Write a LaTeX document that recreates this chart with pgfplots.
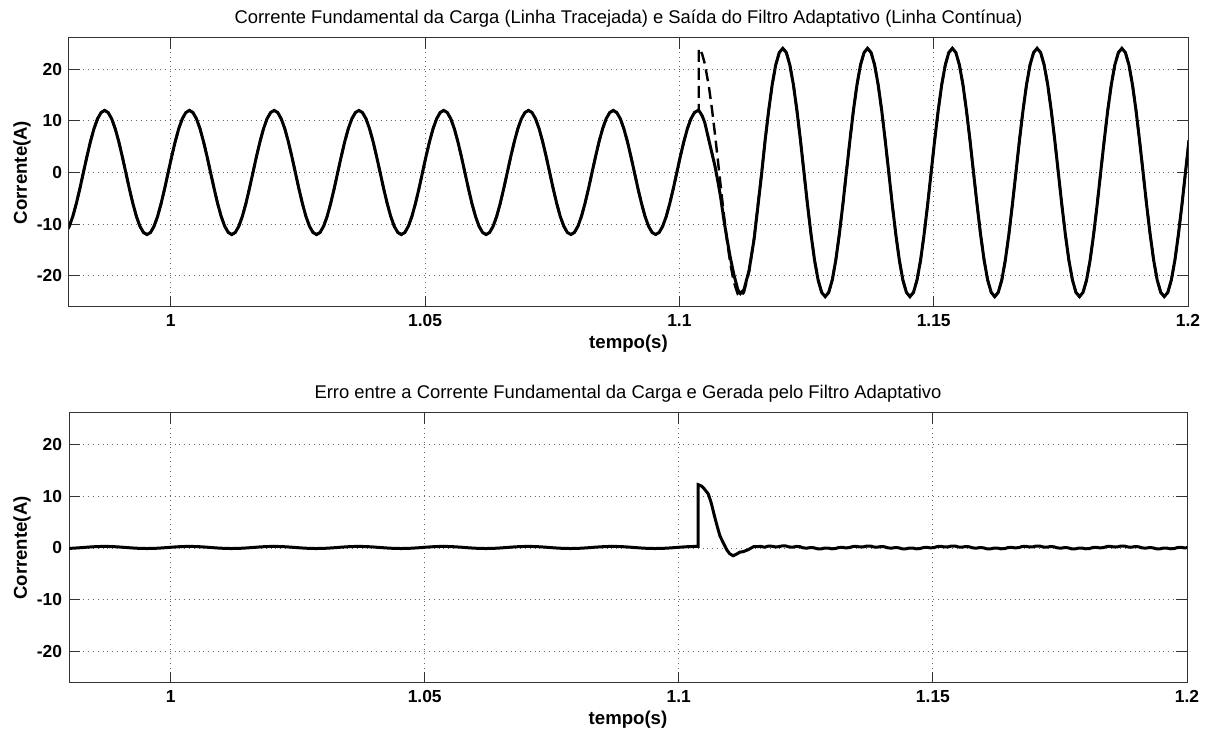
\documentclass[border=0pt]{standalone}
\usepackage{fontspec}
\setmainfont{Liberation Sans}
\usepackage{pgfplots}
\usepackage{pgfplotstable}
\pgfplotsset{compat=1.18}

% t, load current (dashed), adaptive filter output (solid), error
\pgfplotstableread{
t load out err
0.97936 -11.591 -11.591 -0.093
0.98006 -10.392 -10.392 -0.073
0.98075 -8.485 -8.485 -0.041
0.98144 -6 -6 0
0.98214 -3.106 -3.106 0.048
0.98283 0 0 0.100
0.98353 3.106 3.106 0.152
0.98422 6 6 0.200
0.98492 8.485 8.485 0.241
0.98561 10.392 10.392 0.273
0.98631 11.591 11.591 0.293
0.98700 12 12 0.300
0.98769 11.591 11.591 0.293
0.98839 10.392 10.392 0.273
0.98908 8.485 8.485 0.241
0.98978 6 6 0.200
0.99047 3.106 3.106 0.152
0.99117 0 0 0.100
0.99186 -3.106 -3.106 0.048
0.99256 -6 -6 0
0.99325 -8.485 -8.485 -0.041
0.99394 -10.392 -10.392 -0.073
0.99464 -11.591 -11.591 -0.093
0.99533 -12 -12 -0.100
0.99603 -11.591 -11.591 -0.093
0.99672 -10.392 -10.392 -0.073
0.99742 -8.485 -8.485 -0.041
0.99811 -6 -6 0
0.99881 -3.106 -3.106 0.048
0.99950 0 0 0.100
1.00019 3.106 3.106 0.152
1.00089 6 6 0.200
1.00158 8.485 8.485 0.241
1.00228 10.392 10.392 0.273
1.00297 11.591 11.591 0.293
1.00367 12 12 0.300
1.00436 11.591 11.591 0.293
1.00506 10.392 10.392 0.273
1.00575 8.485 8.485 0.241
1.00644 6 6 0.200
1.00714 3.106 3.106 0.152
1.00783 0 0 0.100
1.00853 -3.106 -3.106 0.048
1.00922 -6 -6 0
1.00992 -8.485 -8.485 -0.041
1.01061 -10.392 -10.392 -0.073
1.01131 -11.591 -11.591 -0.093
1.01200 -12 -12 -0.100
1.01269 -11.591 -11.591 -0.093
1.01339 -10.392 -10.392 -0.073
1.01408 -8.485 -8.485 -0.041
1.01478 -6 -6 0
1.01547 -3.106 -3.106 0.048
1.01617 0 0 0.100
1.01686 3.106 3.106 0.152
1.01756 6 6 0.200
1.01825 8.485 8.485 0.241
1.01894 10.392 10.392 0.273
1.01964 11.591 11.591 0.293
1.02033 12 12 0.300
1.02103 11.591 11.591 0.293
1.02172 10.392 10.392 0.273
1.02242 8.485 8.485 0.241
1.02311 6 6 0.200
1.02381 3.106 3.106 0.152
1.02450 0 0 0.100
1.02519 -3.106 -3.106 0.048
1.02589 -6 -6 0
1.02658 -8.485 -8.485 -0.041
1.02728 -10.392 -10.392 -0.073
1.02797 -11.591 -11.591 -0.093
1.02867 -12 -12 -0.100
1.02936 -11.591 -11.591 -0.093
1.03006 -10.392 -10.392 -0.073
1.03075 -8.485 -8.485 -0.041
1.03144 -6 -6 0
1.03214 -3.106 -3.106 0.048
1.03283 0 0 0.100
1.03353 3.106 3.106 0.152
1.03422 6 6 0.200
1.03492 8.485 8.485 0.241
1.03561 10.392 10.392 0.273
1.03631 11.591 11.591 0.293
1.03700 12 12 0.300
1.03769 11.591 11.591 0.293
1.03839 10.392 10.392 0.273
1.03908 8.485 8.485 0.241
1.03978 6 6 0.200
1.04047 3.106 3.106 0.152
1.04117 0 0 0.100
1.04186 -3.106 -3.106 0.048
1.04256 -6 -6 0
1.04325 -8.485 -8.485 -0.041
1.04394 -10.392 -10.392 -0.073
1.04464 -11.591 -11.591 -0.093
1.04533 -12 -12 -0.100
1.04603 -11.591 -11.591 -0.093
1.04672 -10.392 -10.392 -0.073
1.04742 -8.485 -8.485 -0.041
1.04811 -6 -6 0
1.04881 -3.106 -3.106 0.048
1.04950 0 0 0.100
1.05019 3.106 3.106 0.152
1.05089 6 6 0.200
1.05158 8.485 8.485 0.241
1.05228 10.392 10.392 0.273
1.05297 11.591 11.591 0.293
1.05367 12 12 0.300
1.05436 11.591 11.591 0.293
1.05506 10.392 10.392 0.273
1.05575 8.485 8.485 0.241
1.05644 6 6 0.200
1.05714 3.106 3.106 0.152
1.05783 0 0 0.100
1.05853 -3.106 -3.106 0.048
1.05922 -6 -6 0
1.05992 -8.485 -8.485 -0.041
1.06061 -10.392 -10.392 -0.073
1.06131 -11.591 -11.591 -0.093
1.06200 -12 -12 -0.100
1.06269 -11.591 -11.591 -0.093
1.06339 -10.392 -10.392 -0.073
1.06408 -8.485 -8.485 -0.041
1.06478 -6 -6 0
1.06547 -3.106 -3.106 0.048
1.06617 0 0 0.100
1.06686 3.106 3.106 0.152
1.06756 6 6 0.200
1.06825 8.485 8.485 0.241
1.06894 10.392 10.392 0.273
1.06964 11.591 11.591 0.293
1.07033 12 12 0.300
1.07103 11.591 11.591 0.293
1.07172 10.392 10.392 0.273
1.07242 8.485 8.485 0.241
1.07311 6 6 0.200
1.07381 3.106 3.106 0.152
1.07450 0 0 0.100
1.07519 -3.106 -3.106 0.048
1.07589 -6 -6 0
1.07658 -8.485 -8.485 -0.041
1.07728 -10.392 -10.392 -0.073
1.07797 -11.591 -11.591 -0.093
1.07867 -12 -12 -0.100
1.07936 -11.591 -11.591 -0.093
1.08006 -10.392 -10.392 -0.073
1.08075 -8.485 -8.485 -0.041
1.08144 -6 -6 0
1.08214 -3.106 -3.106 0.048
1.08283 0 0 0.100
1.08353 3.106 3.106 0.152
1.08422 6 6 0.200
1.08492 8.485 8.485 0.241
1.08561 10.392 10.392 0.273
1.08631 11.591 11.591 0.293
1.08700 12 12 0.300
1.08769 11.591 11.591 0.293
1.08839 10.392 10.392 0.273
1.08908 8.485 8.485 0.241
1.08978 6 6 0.200
1.09047 3.106 3.106 0.152
1.09117 0 0 0.100
1.09186 -3.106 -3.106 0.048
1.09256 -6 -6 0
1.09325 -8.485 -8.485 -0.041
1.09394 -10.392 -10.392 -0.073
1.09464 -11.591 -11.591 -0.093
1.09533 -12 -12 -0.100
1.09603 -11.591 -11.591 -0.093
1.09672 -10.392 -10.392 -0.073
1.09742 -8.485 -8.485 -0.041
1.09811 -6 -6 0
1.09881 -3.106 -3.106 0.048
1.09950 0 0 0.100
1.10019 3.106 3.106 0.152
1.10089 6 6 0.200
1.10158 8.485 8.485 0.241
1.10228 10.392 10.392 0.273
1.10297 11.591 11.591 0.293
1.10367 12 12 0.300
1.10380 12 12 0.300
1.10381 24 12 12.2
1.10410 23.68 11.58 12.1
1.10450 22.83 10.93 11.9
1.10500 21.03 9.63 11.4
1.10580 16.65 6.25 10.4
1.10640 12.35 3.75 8.6
1.10700 7.42 1.22 6.2
1.10760 2.11 -1.89 4.0
1.10810 -2.41 -4.71 2.3
1.10880 -8.55 -9.45 0.9
1.10940 -13.36 -13.06 -0.3
1.11000 -17.50 -16.40 -1.1
1.11070 -21.17 -19.67 -1.5
1.11150 -23.58 -22.68 -1.1
1.11200 -24.00 -23.40 -0.8
1.11270 -23.17 -22.67 -0.7
1.11370 -19.23 -18.93 -0.3
1.11470 -12.60 -12.85 0.25
1.11617 0 -0.3 0.30
1.11686 6.212 6.212 0.152
1.11756 12 12 0.350
1.11825 16.971 16.971 0.341
1.11894 20.785 20.785 0.223
1.11964 23.182 23.182 0.243
1.12033 24 24 0.400
1.12103 23.182 23.182 0.393
1.12172 20.785 20.785 0.203
1.12242 16.971 16.971 0.161
1.12311 12 12 0.300
1.12381 6.212 6.212 0.252
1.12450 0 0 0.020
1.12519 -6.212 -6.212 -0.032
1.12589 -12 -12 0.080
1.12658 -16.971 -16.971 0.039
1.12728 -20.785 -20.785 -0.153
1.12797 -23.182 -23.182 -0.173
1.12867 -24 -24 -0.020
1.12936 -23.182 -23.182 -0.013
1.13006 -20.785 -20.785 -0.153
1.13075 -16.971 -16.971 -0.121
1.13144 -12 -12 0.080
1.13214 -6.212 -6.212 0.128
1.13283 0 0 0.020
1.13353 6.212 6.212 0.072
1.13422 12 12 0.280
1.13492 16.971 16.971 0.321
1.13561 20.785 20.785 0.193
1.13631 23.182 23.182 0.213
1.13700 24 24 0.380
1.13769 23.182 23.182 0.373
1.13839 20.785 20.785 0.193
1.13908 16.971 16.971 0.161
1.13978 12 12 0.280
1.14047 6.212 6.212 0.232
1.14117 0 0 0.020
1.14186 -6.212 -6.212 -0.032
1.14256 -12 -12 0.080
1.14325 -16.971 -16.971 0.039
1.14394 -20.785 -20.785 -0.153
1.14464 -23.182 -23.182 -0.173
1.14533 -24 -24 -0.020
1.14603 -23.182 -23.182 -0.013
1.14672 -20.785 -20.785 -0.153
1.14742 -16.971 -16.971 -0.121
1.14811 -12 -12 0.080
1.14881 -6.212 -6.212 0.128
1.14950 0 0 0.020
1.15019 6.212 6.212 0.072
1.15089 12 12 0.280
1.15158 16.971 16.971 0.321
1.15228 20.785 20.785 0.193
1.15297 23.182 23.182 0.213
1.15367 24 24 0.380
1.15436 23.182 23.182 0.373
1.15506 20.785 20.785 0.193
1.15575 16.971 16.971 0.161
1.15644 12 12 0.280
1.15714 6.212 6.212 0.232
1.15783 0 0 0.020
1.15853 -6.212 -6.212 -0.032
1.15922 -12 -12 0.080
1.15992 -16.971 -16.971 0.039
1.16061 -20.785 -20.785 -0.153
1.16131 -23.182 -23.182 -0.173
1.16200 -24 -24 -0.020
1.16269 -23.182 -23.182 -0.013
1.16339 -20.785 -20.785 -0.153
1.16408 -16.971 -16.971 -0.121
1.16478 -12 -12 0.080
1.16547 -6.212 -6.212 0.128
1.16617 0 0 0.020
1.16686 6.212 6.212 0.072
1.16756 12 12 0.280
1.16825 16.971 16.971 0.321
1.16894 20.785 20.785 0.193
1.16964 23.182 23.182 0.213
1.17033 24 24 0.380
1.17103 23.182 23.182 0.373
1.17172 20.785 20.785 0.193
1.17242 16.971 16.971 0.161
1.17311 12 12 0.280
1.17381 6.212 6.212 0.232
1.17450 0 0 0.020
1.17519 -6.212 -6.212 -0.032
1.17589 -12 -12 0.080
1.17658 -16.971 -16.971 0.039
1.17728 -20.785 -20.785 -0.153
1.17797 -23.182 -23.182 -0.173
1.17867 -24 -24 -0.020
1.17936 -23.182 -23.182 -0.013
1.18006 -20.785 -20.785 -0.153
1.18075 -16.971 -16.971 -0.121
1.18144 -12 -12 0.080
1.18214 -6.212 -6.212 0.128
1.18283 0 0 0.020
1.18353 6.212 6.212 0.072
1.18422 12 12 0.280
1.18492 16.971 16.971 0.321
1.18561 20.785 20.785 0.193
1.18631 23.182 23.182 0.213
1.18700 24 24 0.380
1.18769 23.182 23.182 0.373
1.18839 20.785 20.785 0.193
1.18908 16.971 16.971 0.161
1.18978 12 12 0.280
1.19047 6.212 6.212 0.232
1.19117 0 0 0.020
1.19186 -6.212 -6.212 -0.032
1.19256 -12 -12 0.080
1.19325 -16.971 -16.971 0.039
1.19394 -20.785 -20.785 -0.153
1.19464 -23.182 -23.182 -0.173
1.19533 -24 -24 -0.020
1.19603 -23.182 -23.182 -0.013
1.19672 -20.785 -20.785 -0.153
1.19742 -16.971 -16.971 -0.121
1.19811 -12 -12 0.080
1.19881 -6.212 -6.212 0.128
1.19950 0 0 0.020
1.20019 6.212 6.212 0.072
}\data

\pgfplotsset{
  mlab/.style={
    scale only axis, anchor=north west,
    xmin=0.98, xmax=1.2, ymin=-26, ymax=26,
    xtick={1,1.05,1.1,1.15,1.2}, ytick={-20,-10,0,10,20},
    grid=major, major grid style={dotted, black!60, line width=0.45pt},
    tick align=inside, major tick length=5.5pt,
    axis line style={black!80, line width=0.5pt},
    tick style={black!80, line width=0.5pt},
    /pgf/number format/assume math mode=true,
    tick label style={font=\fontsize{8.7}{10}\selectfont\bfseries},
    label style={font=\fontsize{9.3}{11}\selectfont\bfseries},
    title style={font=\fontsize{9.2}{11}\selectfont, at={(0.5,1)}, anchor=center, yshift=3.6pt},
    xlabel style={at={(axis description cs:0.5,0)}, anchor=center, yshift=-18.5pt},
    ylabel style={at={(axis description cs:0,0.5)}, anchor=center, yshift=23.5pt},
    xlabel={tempo(s)}, ylabel={Corrente(A)},
  },
}

\begin{document}
\begin{tikzpicture}
\path[use as bounding box] (0,0) rectangle (604pt,365.5pt);
\begin{axis}[mlab, at={(34.5pt,346.5pt)}, width=559.5pt, height=134.5pt,
  title={Corrente Fundamental da Carga (Linha Tracejada) e Saída do Filtro Adaptativo (Linha Contínua)}]
  \addplot[black, line width=1.2pt, dash pattern=on 6pt off 3pt] table[x=t, y=load] {\data};
  \addplot[black, line width=1.5pt] table[x=t, y=out] {\data};
\end{axis}
\begin{axis}[mlab, at={(34.5pt,159pt)}, width=559pt, height=135pt,
  title={Erro entre a Corrente Fundamental da Carga e Gerada pelo Filtro Adaptativo}]
  \addplot[black, line width=1.5pt] table[x=t, y=err] {\data};
\end{axis}
\end{tikzpicture}
\end{document}
